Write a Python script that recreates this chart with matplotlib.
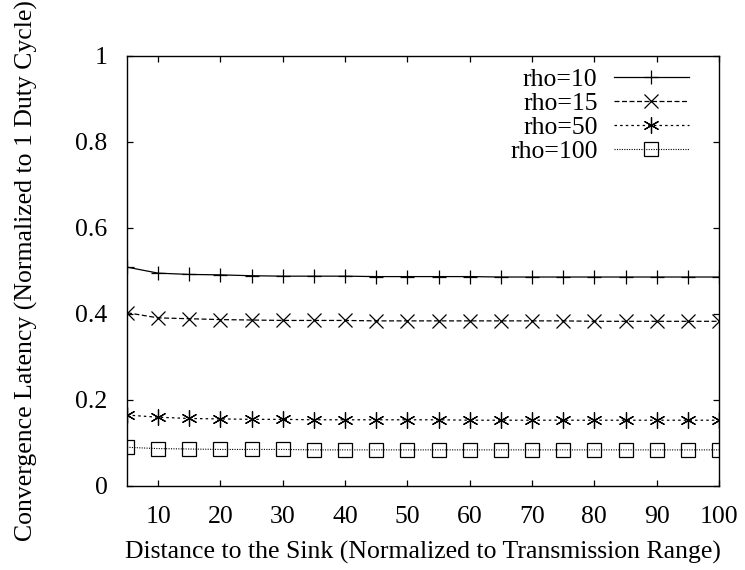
import matplotlib
matplotlib.use("Agg")
import matplotlib.pyplot as plt

plt.rcParams['font.family'] = ['Liberation Serif', 'DejaVu Serif']

distance = [5, 10, 15, 20, 25, 30, 35, 40, 45, 50, 55, 60, 65, 70, 75, 80, 85, 90, 95, 100]
rho10 = [0.509, 0.495, 0.492, 0.491, 0.489, 0.488, 0.488, 0.488, 0.487, 0.487,
         0.487, 0.487, 0.486, 0.486, 0.486, 0.486, 0.486, 0.486, 0.486, 0.486]
rho15 = [0.403, 0.391, 0.389, 0.387, 0.386, 0.385, 0.385, 0.385, 0.384, 0.384,
         0.384, 0.384, 0.384, 0.384, 0.384, 0.383, 0.383, 0.383, 0.383, 0.383]
rho50 = [0.165, 0.160, 0.157, 0.156, 0.155, 0.155, 0.154, 0.154, 0.154, 0.154,
         0.154, 0.153, 0.153, 0.153, 0.153, 0.153, 0.153, 0.153, 0.153, 0.153]
rho100 = [0.090, 0.087, 0.086, 0.085, 0.085, 0.085, 0.084, 0.084, 0.084, 0.084,
          0.084, 0.084, 0.084, 0.084, 0.084, 0.084, 0.084, 0.084, 0.084, 0.084]
labels = ['rho=10', 'rho=15', 'rho=50', 'rho=100']
xticks = [10, 20, 30, 40, 50, 60, 70, 80, 90, 100]
yticks = [0, 0.2, 0.4, 0.6, 0.8, 1]
ytick_labels = ['0', '0.2', '0.4', '0.6', '0.8', '1']

W, H = 745, 570
L, R, T, B = 127, 719, 56, 486
FS = 18.5

fig = plt.figure(figsize=(W / 100, H / 100), dpi=100)
ax = fig.add_axes([L / W, 1 - B / H, (R - L) / W, (B - T) / H])

ax.plot(distance, rho10, color='black', lw=0.9, ls='-', marker='+', ms=9.5, mew=0.9,
        mfc='none', label=labels[0])
ax.plot(distance, rho15, color='black', lw=0.9, ls=(0, (4, 2)), marker='x', ms=10, mew=0.9,
        mfc='none', label=labels[1])
ax.plot(distance, rho50, color='black', lw=0.9, ls=(0, (2, 2.5)), marker=(6, 2, 0), ms=11.5,
        mew=0.9, mfc='none', label=labels[2])
ax.plot(distance, rho100, color='black', lw=0.8, ls=(0, (1, 1.2)), marker='s', ms=9.5,
        mew=0.9, mfc='none', label=labels[3])

ax.set_xlim(5, 100)
ax.set_ylim(0, 1)
ax.set_xticks(xticks)
ax.set_xticklabels([str(t) for t in xticks])
ax.set_yticks(yticks)
ax.set_yticklabels(ytick_labels)
ax.tick_params(direction='in', top=True, right=True, length=4.5, width=0.9,
               labelsize=FS)
ax.tick_params(axis='x', pad=14.5)
ax.tick_params(axis='y', pad=14)
for s in ax.spines.values():
    s.set_linewidth(1.0)

ax.set_xlabel('Distance to the Sink (Normalized to Transmission Range)', fontsize=FS, labelpad=9)
ax.set_ylabel('Convergence Latency (Normalized to 1 Duty Cycle)', fontsize=FS)
ax.yaxis.set_label_coords((38 - L) / (R - L), 0.5)

leg = ax.legend(loc='upper right', frameon=False, markerfirst=False, fontsize=FS,
                handlelength=2.9, handletextpad=0.65, labelspacing=0.04,
                borderaxespad=0.0,
                bbox_to_anchor=((699 - L) / (R - L), 1 - (58 - T) / (B - T)))
leg._legend_box.align = 'right'

fig.savefig('out.png', dpi=100)
